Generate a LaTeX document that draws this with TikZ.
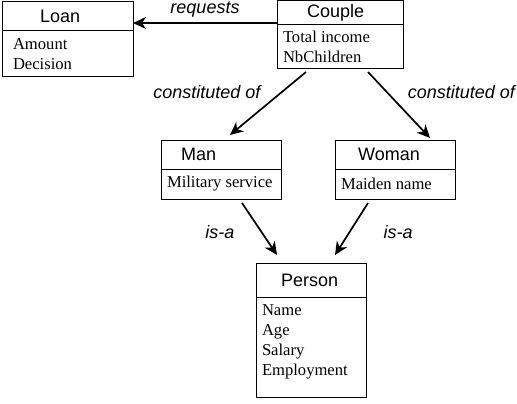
\documentclass[tikz,border=0pt]{standalone}
\usepackage{fontspec}
\setmainfont{Liberation Serif}
\setsansfont{Liberation Sans}
\usetikzlibrary{arrows.meta,positioning}
\tikzstyle{classhead}=[draw, line width=1pt, inner sep=0pt, outer sep=0pt, anchor=north west]
\tikzstyle{classname}=[font=\sffamily\fontsize{18}{20}\selectfont, anchor=west, inner sep=0pt]
\tikzstyle{classattr}=[draw, line width=1pt, outer sep=0pt, align=flush left, inner xsep=6pt, inner ysep=2pt, font=\rmfamily\fontsize{16.6}{20}\selectfont]
\tikzstyle{rel}=[draw, line width=1.7pt, -{Stealth[length=13pt,width=12pt,inset=4pt]}]
\tikzstyle{role}=[font=\sffamily\itshape\fontsize{18}{20}\selectfont]

\begin{document}
\begin{tikzpicture}[x=1pt, y=-1pt]

    \useasboundingbox (0,0) rectangle (517,404);

    % classes
    \node[classhead, minimum width=131pt, minimum height=29pt] (loanhead) at (2,2) {};
    \node[classname] (loan) at ([xshift=38pt]loanhead.west) {Loan};
    \node[classattr, below=0pt of loanhead, inner xsep=11pt, text width=109pt, minimum height=46pt] (loanattr) {Amount\\Decision};

    \node[classhead, minimum width=126pt, minimum height=24pt] (couplehead) at (277,1) {};
    \node[classname] (couple) at ([xshift=30pt]couplehead.west) {Couple};
    \node[classattr, below=0pt of couplehead, text width=114pt, minimum height=44pt] (coupleattr) {Total income\\NbChildren};

    \node[classhead, minimum width=120pt, minimum height=29pt] (manhead) at (161,140) {};
    \node[classname] (man) at ([xshift=20pt]manhead.west) {Man};
    \node[classattr, below=0pt of manhead, text width=108pt, minimum height=30pt] (manattr) {Military service};

    \node[classhead, minimum width=120pt, minimum height=29pt] (womanhead) at (335,140) {};
    \node[classname] (woman) at ([xshift=23pt]womanhead.west) {Woman};
    \node[classattr, below=0pt of womanhead, text width=108pt, minimum height=30pt] (womanattr) {Maiden name};

    \node[classhead, minimum width=110pt, minimum height=34pt] (personhead) at (256,263) {};
    \node[classname] (person) at ([xshift=25pt]personhead.west) {Person};
    \node[classattr, below=0pt of personhead, text width=98pt, minimum height=100pt] (personattr) {Name\\Age\\Salary\\Employment\\[-6pt]\mbox{}};

    % relations
    \draw[rel] ([yshift=-10pt]couplehead.west) coordinate (req) -- node[role, above=2pt] (requests) {requests} (loanhead.east |- req);

    \draw[rel] ([xshift=-34pt,yshift=-3pt]coupleattr.south) -- node[role, pos=0.32, left=17pt] (constman) {constituted of} ([xshift=9pt,yshift=5pt]manhead.north);
    \draw[rel] ([xshift=28pt,yshift=-3pt]coupleattr.south) -- node[role, pos=0.3, right=17pt] (constwoman) {constituted of} ([xshift=35pt,yshift=2pt]womanhead.north);

    \draw[rel] ([xshift=21pt,yshift=-4pt]manattr.south) -- node[role, pos=0.56, left=23pt] (isaman) {is-a} ([xshift=-34pt,yshift=8pt]personhead.north);
    \draw[rel] ([xshift=-27pt,yshift=-4pt]womanattr.south) -- node[role, pos=0.56, right=30pt] (isawoman) {is-a} ([xshift=24pt,yshift=8pt]personhead.north);

\end{tikzpicture}
\end{document}
